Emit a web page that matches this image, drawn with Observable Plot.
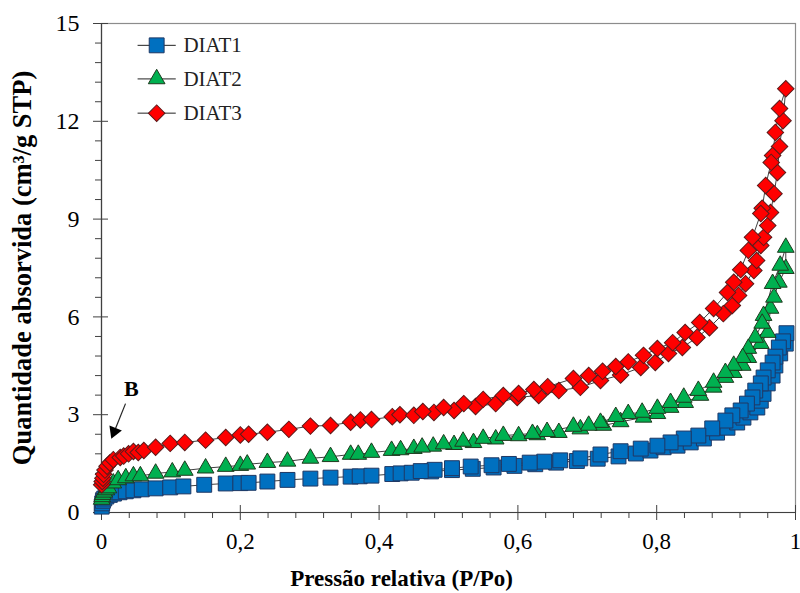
<!DOCTYPE html>
<html>
<head>
<meta charset="utf-8">
<script src="https://cdn.jsdelivr.net/npm/d3@7"></script>
<script src="https://cdn.jsdelivr.net/npm/@observablehq/plot@0.6"></script>
<style>
  html, body { margin: 0; padding: 0; background: #fff; }
  #chart { width: 800px; height: 593px; }
</style>
</head>
<body>
<div id="chart"></div>
<script>
// ---- Data (adsorption branch followed by desorption branch, in measured order) ----
const seriesNames = ["DIAT1", "DIAT2", "DIAT3"];

const diat1P = [0.0003,0.001,0.002,0.004,0.007,0.012,0.018,0.026,0.035,0.046,0.058,0.078,0.099,0.118,0.148,0.179,0.2,0.212,0.239,0.268,0.301,0.33,0.359,0.372,0.389,0.419,0.431,0.447,0.475,0.505,0.535,0.565,0.595,0.625,0.655,0.685,0.715,0.745,0.77,0.791,0.81,0.83,0.849,0.868,0.887,0.902,0.916,0.925,0.935,0.945,0.95,0.954,0.96,0.967,0.971,0.978,0.986,0.987,
  0.982,0.976,0.971,0.967,0.96,0.954,0.95,0.942,0.938,0.93,0.921,0.909,0.899,0.88,0.86,0.839,0.82,0.801,0.777,0.748,0.719,0.69,0.661,0.638,0.617,0.587,0.562,0.532,0.505,0.48,0.46];
const diat1Q = [0.18,0.28,0.36,0.43,0.49,0.54,0.58,0.62,0.65,0.68,0.71,0.74,0.77,0.8,0.85,0.89,0.9,0.91,0.95,1.0,1.04,1.07,1.1,1.11,1.13,1.18,1.2,1.22,1.26,1.3,1.34,1.38,1.43,1.48,1.53,1.58,1.65,1.72,1.81,1.9,2.0,2.05,2.15,2.27,2.45,2.6,2.76,2.91,3.07,3.22,3.43,3.64,3.96,4.2,4.51,4.88,5.18,5.5,
  5.25,5.06,4.78,4.6,4.36,4.14,3.96,3.74,3.53,3.34,3.13,2.98,2.82,2.58,2.36,2.27,2.15,2.05,1.96,1.88,1.78,1.66,1.6,1.56,1.53,1.49,1.45,1.41,1.36,1.31,1.27];

const diat2P = [0.0003,0.001,0.002,0.004,0.007,0.01,0.017,0.024,0.035,0.046,0.056,0.078,0.102,0.12,0.15,0.179,0.2,0.21,0.239,0.268,0.301,0.33,0.359,0.37,0.389,0.418,0.431,0.45,0.478,0.508,0.536,0.568,0.601,0.628,0.659,0.69,0.723,0.748,0.781,0.801,0.82,0.841,0.863,0.882,0.899,0.911,0.924,0.932,0.95,0.96,0.964,0.969,0.976,0.986,0.986,
  0.978,0.967,0.954,0.952,0.942,0.932,0.924,0.911,0.899,0.882,0.86,0.839,0.82,0.801,0.779,0.759,0.741,0.719,0.702,0.68,0.642,0.621,0.579,0.55,0.521,0.493,0.462];
const diat2Q = [0.4,0.48,0.55,0.62,0.69,0.75,0.9,1.0,1.06,1.12,1.12,1.2,1.24,1.29,1.36,1.41,1.44,1.48,1.53,1.57,1.66,1.71,1.78,1.78,1.84,1.9,1.92,1.96,2.03,2.08,2.14,2.25,2.35,2.38,2.45,2.56,2.67,2.78,2.92,3.03,3.22,3.37,3.59,3.84,4.14,4.29,4.51,4.75,5.18,5.52,6.26,6.6,7.06,7.48,8.13,
  7.58,7.02,6.04,5.8,5.37,5.03,4.75,4.51,4.29,3.99,3.74,3.53,3.37,3.19,3.07,3.03,2.94,2.76,2.67,2.64,2.48,2.42,2.36,2.27,2.18,2.1,2.0];

const diat3P = [0.0003,0.001,0.002,0.003,0.005,0.008,0.012,0.017,0.027,0.032,0.039,0.046,0.053,0.061,0.078,0.099,0.12,0.15,0.179,0.2,0.212,0.239,0.27,0.301,0.33,0.359,0.373,0.389,0.419,0.43,0.45,0.479,0.508,0.539,0.568,0.599,0.63,0.659,0.69,0.719,0.748,0.777,0.798,0.817,0.837,0.858,0.876,0.896,0.909,0.918,0.928,0.94,0.944,0.95,0.954,0.96,0.964,0.969,0.974,0.977,0.982,0.986,
  0.977,0.971,0.967,0.965,0.957,0.952,0.95,0.938,0.932,0.921,0.911,0.902,0.882,0.862,0.841,0.823,0.801,0.781,0.759,0.741,0.722,0.702,0.68,0.643,0.623,0.601,0.579,0.55,0.522,0.493,0.463];
const diat3Q = [0.85,0.95,1.05,1.17,1.3,1.42,1.52,1.62,1.69,1.73,1.8,1.87,1.84,1.9,2.0,2.12,2.15,2.22,2.3,2.38,2.4,2.46,2.55,2.65,2.67,2.77,2.84,2.85,2.94,3.0,2.98,3.07,3.13,3.25,3.34,3.53,3.59,3.74,3.84,4.05,4.22,4.45,4.6,4.88,5.06,5.37,5.67,6.1,6.35,6.66,7.02,7.42,7.73,8.19,8.44,8.8,9.2,9.78,10.43,11.23,12.02,13.0,
  12.39,11.66,10.95,10.74,10.03,9.33,9.17,8.44,8.04,7.45,7.06,6.75,6.26,5.83,5.52,5.21,5.03,4.82,4.62,4.48,4.33,4.2,4.11,3.86,3.77,3.65,3.59,3.47,3.34,3.22,3.1];

// ---- Axis ticks and labels ----
const xTicks = [0, 0.2, 0.4, 0.6, 0.8, 1];
const xTickLabels = ["0", "0,2", "0,4", "0,6", "0,8", "1"];
const yTicks = [0, 3, 6, 9, 12, 15];
const yTickLabels = ["0", "3", "6", "9", "12", "15"];
const xTitle = "Pressão relativa (P/Po)";
const yTitle = "Quantidade absorvida (cm³/g STP)";
const annotationText = "B";

// ---- Build tables ----
const toRows = (P, Q, name) => P.map((p, i) => ({p, q: Q[i], name}));
const series = [
  toRows(diat1P, diat1Q, seriesNames[0]),
  toRows(diat2P, diat2Q, seriesNames[1]),
  toRows(diat3P, diat3Q, seriesNames[2])
];

// ---- Styling / layout (not data) ----
const styles = [
  {symbol: "square", r: 8.4, fill: "#0070C0", stroke: "#1F3864", rotate: 0},
  {symbol: "triangle", r: 6.2, fill: "#00B050", stroke: "#1E3A1E", rotate: 0},
  {symbol: "square", r: 6.6, fill: "#FF0000", stroke: "#5A1A1A", rotate: 45}
];
const xMinor = d3.range(0, 1.0001, 0.04).filter(v => !xTicks.some(t => Math.abs(t - v) < 1e-6));
const yMinor = d3.range(0, 15.0001, 0.6).filter(v => !yTicks.some(t => Math.abs(t - v) < 1e-6));
const legendRows = [14.33, 13.3, 12.25];
const legendX = {x1: 0.052, x2: 0.107, marker: 0.0795, text: 0.118};
const annot = {tx: 0.043, ty: 3.8, x1: 0.0346, y1: 3.34, hx: 0.0183, hy: 2.48};
const axisColor = "#404040";
const serif = "'Liberation Serif', 'Times New Roman', Times, serif";

const marks = [
  Plot.frame({stroke: "#8c8c8c", strokeWidth: 1.2}),
  Plot.ruleX([0], {stroke: axisColor, strokeWidth: 1.2}),
  Plot.ruleY([0], {stroke: axisColor, strokeWidth: 1.2}),
  // outward major ticks + labels
  Plot.axisX(xTicks, {tickSize: 8, tickPadding: 12, tickFormat: d => xTickLabels[xTicks.indexOf(d)], label: null, stroke: axisColor, fontSize: 23, fontFamily: serif}),
  Plot.axisY(yTicks, {tickSize: 8, tickPadding: 14, tickFormat: d => yTickLabels[yTicks.indexOf(d)], label: null, stroke: axisColor, fontSize: 24, fontFamily: serif}),
  // minor ticks
  Plot.axisX(xMinor, {tickSize: 6, tickFormat: () => "", label: null, stroke: axisColor}),
  Plot.axisY(yMinor, {tickSize: 6, tickFormat: () => "", label: null, stroke: axisColor}),
  // inward halves of the major ticks (cross ticks)
  Plot.tickX(xTicks, {x: d => d, insetTop: 482, stroke: axisColor}),
  Plot.tickY(yTicks, {y: d => d, insetRight: 687, stroke: axisColor}),
  // axis titles
  Plot.text([xTitle], {frameAnchor: "bottom", dx: -47, dy: 66, text: d => d, textAnchor: "middle", lineAnchor: "middle", fontWeight: "bold", fontSize: 23, fontFamily: serif, fill: "#000"}),
  Plot.text([yTitle], {frameAnchor: "left", dx: -79, dy: 0, text: d => d, textAnchor: "middle", lineAnchor: "middle", rotate: -90, fontWeight: "bold", fontSize: 26.5, fontFamily: serif, fill: "#000"})
];

series.forEach((rows, i) => {
  const s = styles[i];
  marks.push(Plot.line(rows, {x: "p", y: "q", stroke: "#404040", strokeWidth: 1}));
  marks.push(Plot.dot(rows, {x: "p", y: "q", symbol: s.symbol, r: s.r, fill: s.fill, stroke: s.stroke, strokeWidth: 1, rotate: s.rotate}));
});

// legend
seriesNames.forEach((name, i) => {
  const s = styles[i];
  const yv = legendRows[i];
  marks.push(Plot.link([name], {x1: legendX.x1, x2: legendX.x2, y1: yv, y2: yv, stroke: "#222", strokeWidth: 1}));
  marks.push(Plot.dot([name], {x: legendX.marker, y: yv, symbol: s.symbol, r: s.r, fill: s.fill, stroke: s.stroke, strokeWidth: 1, rotate: s.rotate}));
  marks.push(Plot.text([name], {x: legendX.text, y: yv, text: d => d, textAnchor: "start", fontSize: 21, fontFamily: serif, fill: "#222"}));
});

// annotation "B" with arrow
marks.push(Plot.text([annotationText], {x: annot.tx, y: annot.ty, text: d => d, fontWeight: "bold", fontSize: 22, fontFamily: serif, fill: "#000"}));
marks.push(Plot.link([annotationText], {x1: annot.x1, y1: annot.y1, x2: annot.hx, y2: annot.hy, stroke: "#222", strokeWidth: 1.2}));
marks.push(Plot.dot([annotationText], {x: annot.hx, y: annot.hy, symbol: "triangle", r: 5, fill: "#000", stroke: "none", rotate: 202}));

const chart = Plot.plot({
  width: 800,
  height: 593,
  marginLeft: 101,
  marginRight: 5,
  marginTop: 23,
  marginBottom: 81,
  x: {domain: [0, 1]},
  y: {domain: [0, 15]},
  style: {fontFamily: serif, fontSize: "22px", color: "#000", background: "#fff", overflow: "visible"},
  marks
});
document.getElementById("chart").appendChild(chart);
</script>
</body>
</html>
